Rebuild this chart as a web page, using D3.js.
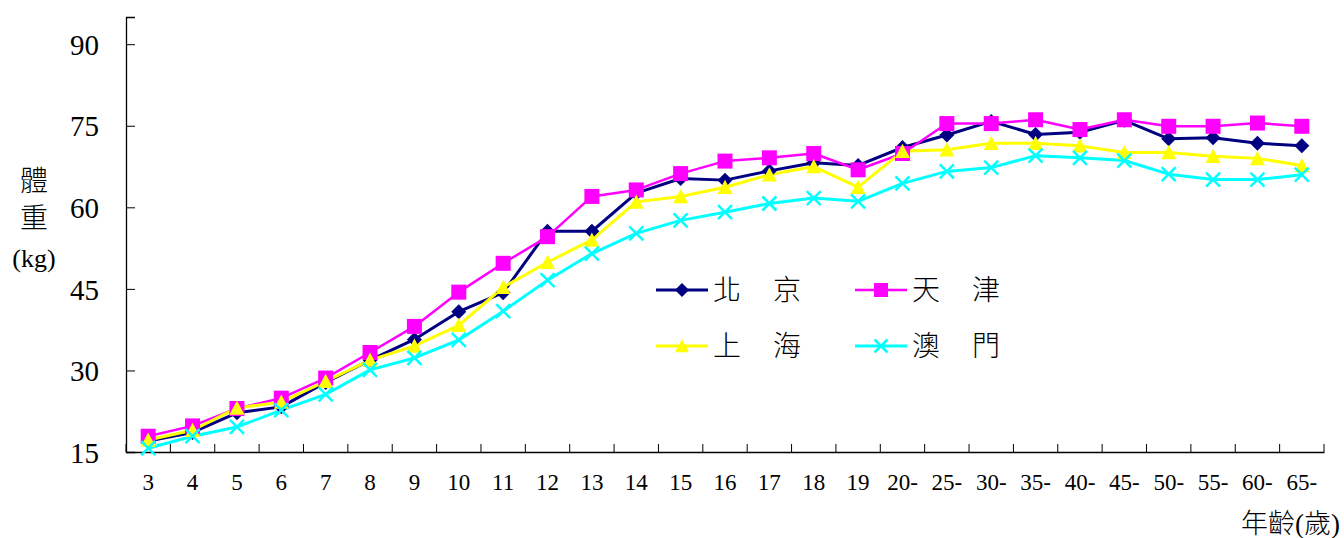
<!DOCTYPE html>
<html>
<head>
<meta charset="utf-8">
<script src="https://cdn.jsdelivr.net/npm/d3@7"></script>
<style>
  html, body { margin: 0; padding: 0; background: #fff; }
  svg { display: block; }
</style>
</head>
<body>
<svg id="chart" width="1344" height="538"></svg>
<script>
const categories = ["3","4","5","6","7","8","9","10","11","12","13","14","15","16","17","18","19","20-","25-","30-","35-","40-","45-","50-","55-","60-","65-"];
const beijing  = [17.0,18.6,22.2,23.3,27.8,31.9,35.7,40.8,44.3,55.6,55.6,62.6,65.3,65.0,66.7,68.2,67.7,71.0,73.3,75.8,73.4,73.8,76.0,72.6,72.8,71.8,71.3];
const tianjin  = [17.9,19.8,23.0,24.9,28.6,33.3,38.1,44.4,49.7,54.6,62.0,63.2,66.2,68.5,69.1,69.9,66.9,69.9,75.4,75.4,76.1,74.3,76.1,74.9,74.9,75.5,74.9];
const shanghai = [17.2,19.0,23.1,24.2,28.0,31.9,34.5,38.3,45.3,49.9,54.0,61.0,62.0,63.7,66.0,67.5,63.7,70.3,70.6,71.8,71.8,71.3,70.1,70.1,69.4,69.0,67.7];
const macau    = [15.7,17.9,19.6,22.7,25.6,30.1,32.3,35.6,40.9,46.6,51.5,55.2,57.6,59.1,60.7,61.7,61.1,64.4,66.6,67.3,69.5,69.1,68.6,66.1,65.1,65.1,66.0];
const seriesNames = ["北京","天津","上海","澳門"];
const yTicks = [15,30,45,60,75,90];
const yTitle = ["體","重","(kg)"];
const xTitle = "年齡(歲)";

const svg = d3.select("#chart");
const plotLeft = 126, plotRight = 1324, plotTop = 17, plotBottom = 452;

const x = d3.scaleBand().domain(categories).range([plotLeft, plotRight]).paddingInner(0).paddingOuter(0);
const y = d3.scaleLinear().domain([15, 95]).range([plotBottom, plotTop]);

// custom symbols
const diamond = { draw(ctx, size) { const r = Math.sqrt(size) / 2; ctx.moveTo(0,-r); ctx.lineTo(r,0); ctx.lineTo(0,r); ctx.lineTo(-r,0); ctx.closePath(); } };
const square = { draw(ctx, size) { const r = Math.sqrt(size) / 2; ctx.rect(-r,-r,2*r,2*r); } };
const triangle = { draw(ctx, size) { const r = Math.sqrt(size) / 2; ctx.moveTo(0,-r); ctx.lineTo(r,r*0.9); ctx.lineTo(-r,r*0.9); ctx.closePath(); } };
const cross = { draw(ctx, size) { const r = Math.sqrt(size) / 2; ctx.moveTo(-r,-r); ctx.lineTo(r,r); ctx.moveTo(r,-r); ctx.lineTo(-r,r); } };

const series = [
  { name: seriesNames[0], values: beijing,  color: "#000080", sym: diamond,  size: 15*15, lw: 3,   stroke: false },
  { name: seriesNames[1], values: tianjin,  color: "#FF00FF", sym: square,   size: 15*15, lw: 2.5, stroke: false },
  { name: seriesNames[2], values: shanghai, color: "#FFFF00", sym: triangle, size: 15*15, lw: 3,   stroke: false },
  { name: seriesNames[3], values: macau,    color: "#00FFFF", sym: cross,    size: 14*14, lw: 3,   stroke: true  }
];

const serif = "'Liberation Serif', 'Times New Roman', Times, serif";

// axes
const yAxis = d3.axisLeft(y).tickValues(yTicks).tickSize(-9).tickPadding(0).tickFormat(d3.format("d"));
const gy = svg.append("g").attr("transform", `translate(${plotLeft},0)`).call(yAxis);
gy.attr("font-family", null);
gy.select(".domain").attr("stroke", "#000").attr("stroke-width", 1.3);
gy.selectAll(".tick line").attr("stroke", "#000").attr("stroke-width", 1);
gy.selectAll(".tick text").attr("x", -27).attr("dy", "0.35em")
  .style("font-family", serif).style("font-size", "29px").attr("fill", "#000");

const xAxis = d3.axisBottom(x).tickSize(0).tickPadding(0);
const gx = svg.append("g").attr("transform", `translate(0,${plotBottom})`).call(xAxis);
gx.attr("font-family", null);
gx.select(".domain").attr("stroke", "#000").attr("stroke-width", 1.3);
gx.selectAll(".tick text").attr("y", 38).attr("dy", 0)
  .style("font-family", serif).style("font-size", "23px").attr("fill", "#000");
// tick marks at category boundaries
const bounds = categories.map(c => x(c)).concat([x(categories[categories.length-1]) + x.bandwidth()]);
svg.append("g").selectAll("line").data(bounds).join("line")
  .attr("x1", d => d).attr("x2", d => d).attr("y1", plotBottom).attr("y2", plotBottom - 8)
  .attr("stroke", "#000").attr("stroke-width", 1);

// lines and markers
const cx = c => x(c) + x.bandwidth() / 2;
series.forEach(s => {
  const line = d3.line().x((d, i) => cx(categories[i])).y(d => y(d));
  svg.append("path").datum(s.values).attr("d", line).attr("fill", "none")
    .attr("stroke", s.color).attr("stroke-width", s.lw).attr("stroke-linejoin", "round");
});
series.forEach(s => {
  const sym = d3.symbol().type(s.sym).size(s.size);
  svg.append("g").selectAll("path").data(s.values).join("path")
    .attr("transform", (d, i) => `translate(${cx(categories[i])},${y(d)})`)
    .attr("d", sym)
    .attr("fill", s.stroke ? "none" : s.color)
    .attr("stroke", s.stroke ? s.color : "none")
    .attr("stroke-width", s.stroke ? 2.5 : 0);
});

// legend
const legendPos = [ [656, 290], [855, 290], [656, 346], [855, 346] ];
series.forEach((s, i) => {
  const [lx, ly] = legendPos[i];
  const g = svg.append("g").attr("transform", `translate(${lx},${ly})`);
  g.append("line").attr("x1", 0).attr("x2", 52).attr("y1", 0).attr("y2", 0)
    .attr("stroke", s.color).attr("stroke-width", s.lw);
  g.append("path").attr("transform", "translate(26,0)")
    .attr("d", d3.symbol().type(s.sym).size(s.stroke ? 13*13 : 14*14)())
    .attr("fill", s.stroke ? "none" : s.color)
    .attr("stroke", s.stroke ? s.color : "none").attr("stroke-width", s.stroke ? 2.5 : 0);
  const chars = Array.from(s.name);
  chars.forEach((ch, k) => {
    g.append("text").attr("x", 57 + k * 60).attr("y", 0).attr("dy", "0.36em")
      .style("font-family", "'Noto Sans CJK TC', sans-serif").style("font-size", "28px")
      .style("font-weight", 300).attr("fill", "#000").text(ch);
  });
});

// y title
const yTitleY = [181, 218, 258];
yTitle.forEach((t, i) => {
  svg.append("text").attr("x", 34).attr("y", yTitleY[i]).attr("dy", "0.36em").attr("text-anchor", "middle")
    .style("font-family", i === 2 ? serif : "'Noto Sans CJK TC', sans-serif")
    .style("font-size", i === 2 ? "26px" : "28px").style("font-weight", 300).attr("fill", "#000").text(t);
});

// x title
svg.append("text").attr("x", 1340).attr("y", 533).attr("text-anchor", "end")
  .style("font-family", "'Liberation Serif', 'Noto Sans CJK TC', serif").style("font-size", "27px")
  .style("font-weight", 300).attr("fill", "#000").text(xTitle);
</script>
</body>
</html>
